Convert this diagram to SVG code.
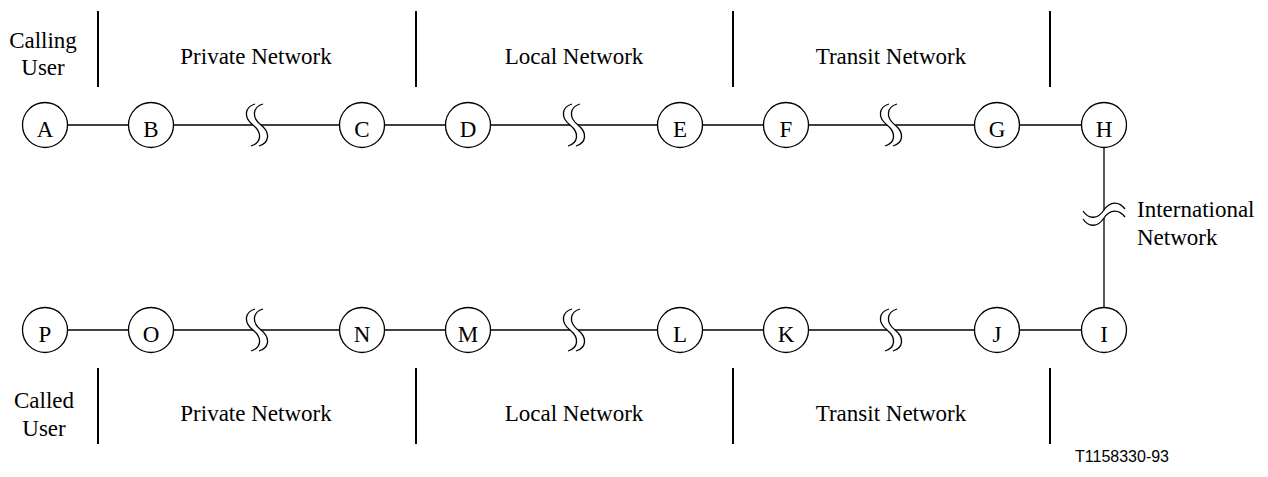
<svg xmlns="http://www.w3.org/2000/svg" width="1268" height="477" viewBox="0 0 1268 477">
<style>
text{font-family:"Liberation Serif","Times New Roman",serif;font-size:23px;fill:#000}
.lbl{text-anchor:middle}
.id{font-family:"Liberation Sans",Arial,sans-serif;font-size:16px}
.node circle{fill:#fff;stroke:#000;stroke-width:1.3}
.node text{text-anchor:middle}
.div{stroke:#000;stroke-width:2}
#connectors line{stroke:#000;stroke-width:1.3}
.brk{fill:none;stroke:#000;stroke-width:1.3}
</style>
<defs>
<path id="sbrk" d="M2,-21 C-8,-18 -10,-8 0,0 C10,8 8,18 -2,21" class="brk"/>
</defs>
<rect width="1268" height="477" fill="#fff"/>
<g id="connectors">
<line x1="67.5" y1="125" x2="128.5" y2="125"/>
<line x1="173.5" y1="125" x2="253" y2="125"/>
<line x1="261" y1="125" x2="339.5" y2="125"/>
<line x1="384.5" y1="125" x2="445.5" y2="125"/>
<line x1="490.5" y1="125" x2="570" y2="125"/>
<line x1="578" y1="125" x2="657.5" y2="125"/>
<line x1="702.5" y1="125" x2="763.5" y2="125"/>
<line x1="808.5" y1="125" x2="887" y2="125"/>
<line x1="895" y1="125" x2="974.5" y2="125"/>
<line x1="1019.5" y1="125" x2="1081.5" y2="125"/>
<line x1="1104" y1="147.5" x2="1104" y2="210"/>
<line x1="1104" y1="218" x2="1104" y2="307.5"/>
<line x1="67.5" y1="330" x2="128.5" y2="330"/>
<line x1="173.5" y1="330" x2="253" y2="330"/>
<line x1="261" y1="330" x2="339.5" y2="330"/>
<line x1="384.5" y1="330" x2="445.5" y2="330"/>
<line x1="490.5" y1="330" x2="570" y2="330"/>
<line x1="578" y1="330" x2="657.5" y2="330"/>
<line x1="702.5" y1="330" x2="763.5" y2="330"/>
<line x1="808.5" y1="330" x2="887" y2="330"/>
<line x1="895" y1="330" x2="974.5" y2="330"/>
<line x1="1019.5" y1="330" x2="1081.5" y2="330"/>
<use href="#sbrk" x="253" y="125"/><use href="#sbrk" x="261" y="125"/>
<use href="#sbrk" x="570" y="125"/><use href="#sbrk" x="578" y="125"/>
<use href="#sbrk" x="887" y="125"/><use href="#sbrk" x="895" y="125"/>
<use href="#sbrk" x="253" y="330"/><use href="#sbrk" x="261" y="330"/>
<use href="#sbrk" x="570" y="330"/><use href="#sbrk" x="578" y="330"/>
<use href="#sbrk" x="887" y="330"/><use href="#sbrk" x="895" y="330"/>
<path class="brk" d="M1083,211 C1089,220 1098,219 1104,210 C1110,201 1119,201 1125,209"/>
<path class="brk" d="M1083,219 C1089,228 1098,227 1104,218 C1110,209 1119,209 1125,217"/>
</g>
<g id="dividers">
<line class="div" x1="98" y1="11" x2="98" y2="87"/>
<line class="div" x1="416" y1="11" x2="416" y2="87"/>
<line class="div" x1="733" y1="11" x2="733" y2="87"/>
<line class="div" x1="1050" y1="11" x2="1050" y2="87"/>
<line class="div" x1="98" y1="368" x2="98" y2="444"/>
<line class="div" x1="416" y1="368" x2="416" y2="444"/>
<line class="div" x1="733" y1="368" x2="733" y2="444"/>
<line class="div" x1="1050" y1="368" x2="1050" y2="444"/>
</g>
<g id="labels">
<text class="lbl" x="43" y="48">Calling</text>
<text class="lbl" x="43" y="75">User</text>
<text class="lbl" x="256" y="64">Private Network</text>
<text class="lbl" x="574" y="64">Local Network</text>
<text class="lbl" x="891" y="64">Transit Network</text>
<text class="lbl" x="44" y="408">Called</text>
<text class="lbl" x="44" y="436">User</text>
<text class="lbl" x="256" y="421">Private Network</text>
<text class="lbl" x="574" y="421">Local Network</text>
<text class="lbl" x="891" y="421">Transit Network</text>
<text x="1137" y="217">International</text>
<text x="1137" y="245">Network</text>
<text class="id" x="1075" y="462">T1158330-93</text>
</g>
<g id="node-A" class="node"><circle cx="45" cy="125" r="22.5"/><text x="45" y="137">A</text></g>
<g id="node-B" class="node"><circle cx="151" cy="125" r="22.5"/><text x="151" y="137">B</text></g>
<g id="node-C" class="node"><circle cx="362" cy="125" r="22.5"/><text x="362" y="137">C</text></g>
<g id="node-D" class="node"><circle cx="468" cy="125" r="22.5"/><text x="468" y="137">D</text></g>
<g id="node-E" class="node"><circle cx="680" cy="125" r="22.5"/><text x="680" y="137">E</text></g>
<g id="node-F" class="node"><circle cx="786" cy="125" r="22.5"/><text x="786" y="137">F</text></g>
<g id="node-G" class="node"><circle cx="997" cy="125" r="22.5"/><text x="997" y="137">G</text></g>
<g id="node-H" class="node"><circle cx="1104" cy="125" r="22.5"/><text x="1104" y="137">H</text></g>
<g id="node-P" class="node"><circle cx="45" cy="330" r="22.5"/><text x="45" y="342">P</text></g>
<g id="node-O" class="node"><circle cx="151" cy="330" r="22.5"/><text x="151" y="342">O</text></g>
<g id="node-N" class="node"><circle cx="362" cy="330" r="22.5"/><text x="362" y="342">N</text></g>
<g id="node-M" class="node"><circle cx="468" cy="330" r="22.5"/><text x="468" y="342">M</text></g>
<g id="node-L" class="node"><circle cx="680" cy="330" r="22.5"/><text x="680" y="342">L</text></g>
<g id="node-K" class="node"><circle cx="786" cy="330" r="22.5"/><text x="786" y="342">K</text></g>
<g id="node-J" class="node"><circle cx="997" cy="330" r="22.5"/><text x="997" y="342">J</text></g>
<g id="node-I" class="node"><circle cx="1104" cy="330" r="22.5"/><text x="1104" y="342">I</text></g>
</svg>
